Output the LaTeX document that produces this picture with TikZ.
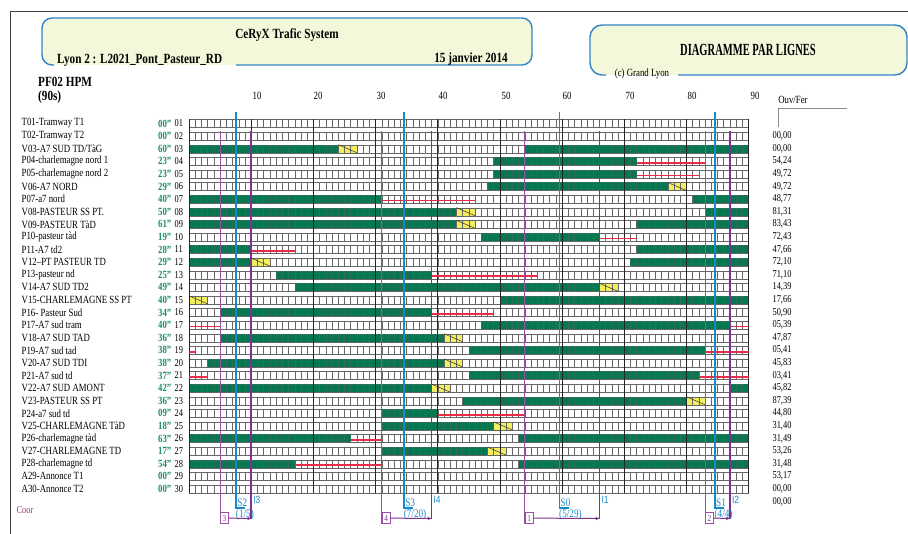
\documentclass[tikz,border=0pt]{standalone}
\usepackage{fontspec}
\setmainfont{Liberation Serif}[FakeStretch=0.8]
\newfontfamily\lsans{Liberation Sans}[FakeStretch=0.8]
\newfontfamily\condserif{Liberation Serif}[FakeStretch=0.62]
\usetikzlibrary{arrows.meta}
\definecolor{gbar}{HTML}{07774F}
\definecolor{ambcol}{HTML}{F3EE5E}
\definecolor{rline}{HTML}{E52E45}
\definecolor{sblue}{HTML}{1B88CA}
\definecolor{pthinc}{HTML}{9B4DA8}
\definecolor{pthickc}{HTML}{7E3290}
\definecolor{tgreen}{HTML}{1B8B6E}
\definecolor{hfill}{HTML}{F3F8DA}
\definecolor{hborder}{HTML}{2F84C8}
\definecolor{coorc}{HTML}{A0307A}
\newcommand{\fsz}[1]{\fontsize{#1}{#1}\selectfont}
\newcommand{\gbr}[3]{\fill[gbar] ({189+6.217*#2},{123.5+12.6*(#1-1)-4}) rectangle ({189+6.217*#3},{123.5+12.6*(#1-1)+4});}
\newcommand{\gov}[3]{\fill[gbar, opacity=0.6] ({189+6.217*#2},{123.5+12.6*(#1-1)-4}) rectangle ({189+6.217*#3},{123.5+12.6*(#1-1)+4});}
\newcommand{\ybr}[3]{\fill[fill=ambcol] ({189+6.217*#2},{123.5+12.6*(#1-1)-4}) rectangle ({189+6.217*#3},{123.5+12.6*(#1-1)+4});}
\newcommand{\ydg}[3]{\draw[black!80, line width=0.5pt] ({189+6.217*#2},{123.5+12.6*(#1-1)-4}) -- ({189+6.217*#3},{123.5+12.6*(#1-1)+4});}
\newcommand{\rbr}[3]{\draw[rline, line width=1.5pt] ({189+6.217*#2},{123.5+12.6*(#1-1)+1.5}) -- ({189+6.217*#3},{123.5+12.6*(#1-1)+1.5});}
\tikzset{
  cellln/.style={draw=black!60, line width=0.35pt},
  tenln/.style={draw=black!85, line width=0.6pt},
  rowlab/.style={anchor=west, inner sep=0pt, font=\fsz{11}},
  tval/.style={anchor=east, inner sep=0pt, text=tgreen, font=\fsz{11}\bfseries},
  rnum/.style={anchor=west, inner sep=0pt, font=\fsz{10.5}},
  vallab/.style={inner sep=0pt, font=\fsz{10.5}},
  scl/.style={inner sep=0pt, font=\fsz{11}},
  hdr/.style={inner sep=0pt, font=\fsz{14}\bfseries},
  blueln/.style={draw=sblue, line width=1.9pt},
  pthin/.style={draw=pthinc, line width=1pt},
  pthick/.style={draw=pthickc, line width=1.6pt},
  slbl/.style={inner sep=0.5pt, text=sblue, font=\fsz{11.5}},
  ilbl/.style={inner sep=0pt, text=sblue, font=\lsans\fsz{10.5}},
  pbox/.style={draw=pthinc, line width=0.8pt, text=pthickc, minimum width=8pt, minimum height=11pt, inner sep=0pt, font=\fsz{9}},
  parrow/.style={draw=pthickc, line width=1pt, -{Stealth[length=4pt,width=3.5pt]}},
}
\begin{document}
\begin{tikzpicture}[x=1pt,y=-1pt]
\useasboundingbox (0,0) rectangle (908,534);
% frame
\coordinate (ftr) at (908,12);
\coordinate (ftl) at (10,12);
\coordinate (fbl) at (10,534);
\draw[black!75, line width=1pt] (ftr) -- (ftl) -- (fbl);
% header box 1
\fill[hfill, rounded corners=10pt] (42,18) rectangle (532,65);
\draw[hborder, line width=1.4pt, rounded corners=10pt] (236,65) -- (532,65) -- (532,18) -- (42,18) -- (42,65) -- (54,65);
\node[hdr] (title) at (287,35) {CeRyX Trafic System};
\node[hdr, anchor=west] (site) at (57,60) {Lyon 2 : L2021\_Pont\_Pasteur\_RD};
\node[hdr, anchor=east] (date) at (508,59) {15 janvier 2014};
% header box 2
\fill[hfill, rounded corners=12pt] (590,25) rectangle (907,75);
\draw[hborder, line width=1.4pt, rounded corners=12pt] (678,75) -- (907,75) -- (907,25) -- (590,25) -- (590,75) -- (606,75);
\node[inner sep=0pt, font=\condserif\fsz{17}\bfseries] (dtit) at (748,50) {DIAGRAMME PAR LIGNES};
\node[inner sep=0pt, font=\fsz{11}] (copy) at (642,74) {(c) Grand Lyon};
% plan name
\node[hdr, anchor=west] (pf) at (38,82) {PF02 HPM};
\node[hdr, anchor=west] (dur) at (38,97) {(90s)};
% scale
\foreach \t/\xx in {10/257,20/318,30/381,40/443,50/506,60/567,70/630,80/692,90/755}
  {\node[scl] (sc\t) at (\xx,96) {\t};}
\node[inner sep=0pt, font=\fsz{11}] (ouvfer) at (793,100) {Ouv/Fer};
\coordinate (lA) at (778,127);
\coordinate (lC) at (778,108);
\coordinate (lB) at (847,108);
\draw[black!45, line width=0.6pt] (lA) -- (lC) -- (lB);
% green bars
\def\greenlist{3/0/24,3/54/90,4/49/72,5/49/72,6/48/77,7/0/31,7/81/90,8/0/43,8/83/90,9/0/43,9/72/90,10/47/66,11/0/10,11/72/90,12/0/10,12/71/90,13/14/39,14/17/66,15/50/90,16/5/39,17/47/87,18/5/41,19/45/83,20/3/41,21/45/82,22/0/39,22/87/90,23/44/80,24/31/40,25/31/49,26/0/26,26/53/90,27/31/48,28/0/17,28/53/90}
\foreach \r/\a/\b in \greenlist {\gbr{\r}{\a}{\b}}
% amber
\def\amberlist{3/24/27,6/77/80,8/43/46,9/43/46,12/10/13,14/66/69,15/0/3,18/41/44,20/41/44,22/39/42,23/80/83,25/49/52,27/48/51}
\foreach \r/\a/\b in \amberlist {\ybr{\r}{\a}{\b}}
% cells
\foreach \r in {1,...,30}{
  \pgfmathsetmacro\yt{123.5+12.6*(\r-1)-4}
  \draw[cellln] (189,\yt) rectangle (748.5,{\yt+8});
  \draw[cellln] \foreach \t in {1,...,89}{ ({189+6.217*\t},\yt) -- ++(0,8) };
}
\foreach \r/\a/\b in \greenlist {\gov{\r}{\a}{\b}}
\foreach \r/\a/\b in \amberlist {\ydg{\r}{\a}{\b}}
% ten-second lines
\foreach \t in {0,10,...,90}
  {\draw[tenln] ({189+6.217*\t},119.5) -- ({189+6.217*\t},492.9);}
% red clearance lines
\foreach \r/\a/\b in {4/72/83,5/72/82,7/31/46,10/66/72,11/10/17,13/39/56,16/39/49,17/87/90,17/0/5,19/83/90,19/0/1,21/82/90,21/0/3,24/40/54,26/26/31,28/17/31}
  {\rbr{\r}{\a}{\b}}
% row labels
\foreach \i/\n/\lab/\tv in {
 1/01/{T01-Tramway T1}/00, 2/02/{T02-Tramway T2}/00, 3/03/{V03-A7 SUD TD/TàG}/60,
 4/04/{P04-charlemagne nord 1}/23, 5/05/{P05-charlemagne nord 2}/23, 6/06/{V06-A7 NORD}/29,
 7/07/{P07-a7 nord}/40, 8/08/{V08-PASTEUR SS PT.}/50, 9/09/{V09-PASTEUR TàD}/61,
 10/10/{P10-pasteur tàd}/19, 11/11/{P11-A7 td2}/28, 12/12/{V12–PT PASTEUR TD}/29,
 13/13/{P13-pasteur nd}/25, 14/14/{V14-A7 SUD TD2}/49, 15/15/{V15-CHARLEMAGNE SS PT}/40,
 16/16/{P16- Pasteur Sud}/34, 17/17/{P17-A7 sud tram}/40, 18/18/{V18-A7 SUD TAD}/36,
 19/19/{P19-A7 sud tad}/38, 20/20/{V20-A7 SUD TDI}/38, 21/21/{P21-A7 sud td}/37,
 22/22/{V22-A7 SUD AMONT}/42, 23/23/{V23-PASTEUR SS PT}/36, 24/24/{P24-a7 sud td}/09,
 25/25/{V25-CHARLEMAGNE TàD}/18, 26/26/{P26-charlemagne tàd}/63, 27/27/{V27-CHARLEMAGNE TD}/17,
 28/28/{P28-charlemagne td}/54, 29/29/{A29-Annonce T1}/00, 30/30/{A30-Annonce T2}/00}
{
  \pgfmathsetmacro\yy{123.5+12.6*(\i-1)}
  \node[rowlab] (lab\i) at (21.5,\yy) {\lab};
  \node[tval] (tv\i) at (171.5,\yy) {\tv"};
  \node[rnum] (num\i) at (174.5,\yy) {\n};
}
% open/close values
\foreach \i/\v in {1/{00,00},2/{00,00},3/{54,24},4/{49,72},5/{49,72},6/{48,77},7/{81,31},8/{83,43},9/{72,43},10/{47,66},11/{72,10},12/{71,10},13/{14,39},14/{17,66},15/{50,90},16/{05,39},17/{47,87},18/{05,41},19/{45,83},20/{03,41},21/{45,82},22/{87,39},23/{44,80},24/{31,40},25/{31,49},26/{53,26},27/{31,48},28/{53,17},29/{00,00},30/{00,00}}
{
  \node[vallab] (val\i) at (782,{136+12.6*(\i-1)}) {\v};
}
% stage lines: thin purple (start), blue (stage), thick purple (end)
\foreach \k/\xp/\xs/\xi/\sl/\sn/\il in {3/220.09/236.25/251.17/S2/(1\slash 5)/I3, 4/381.73/404.11/431.46/S3/(7\slash 20)/I4, 1/524.72/559.53/599.32/S0/(5\slash 29)/I1, 2/705.01/714.96/729.88/S1/(4\slash 4)/I2}
{
  \coordinate (pt\k) at (\xp,131);
  \coordinate (pb\k) at (\xp,524);
  \draw[pthin] (pt\k) -- (pb\k);
  \coordinate (it\k) at (\xi,131);
  \coordinate (ib\k) at (\xi,518.5);
  \draw[pthick] (it\k) -- (ib\k);
  \coordinate (st\k) at (\xs,112.5);
  \coordinate (sb\k) at (\xs,508);
  \coordinate (sf\k) at ({\xs+9},508);
  \draw[blueln] (st\k) -- (sb\k) -- (sf\k);
  \node[slbl, anchor=south west] (sl\k) at ({\xs+0.5},507.5) {\sl};
  \node[slbl, anchor=north west] (sn\k) at ({\xs-1},508.5) {\sn};
  \node[ilbl, anchor=west] (il\k) at ({\xi+2},499.5) {\il};
  \node[pbox, anchor=south west] (bx\k) at (pb\k) {\k};
  \draw[parrow] (bx\k.east) -- (ib\k);
}
\node[inner sep=0pt, text=coorc, font=\fsz{10.5}] (coor) at (25,510) {Coor};
\end{tikzpicture}
\end{document}
